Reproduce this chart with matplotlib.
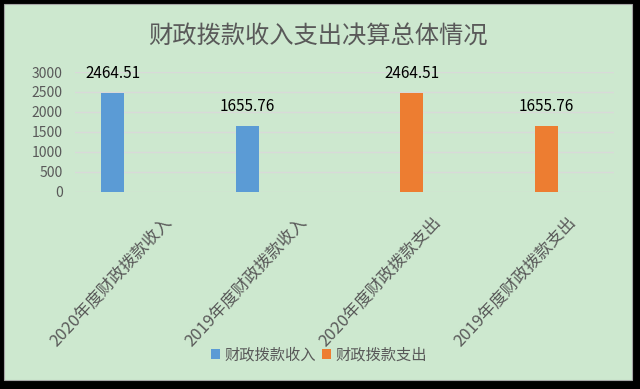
import matplotlib
matplotlib.use('Agg')
import matplotlib.pyplot as plt
from matplotlib.patches import Rectangle
import numpy as np

plt.rcParams['font.family'] = ['Noto Sans CJK SC', 'DejaVu Sans']

categories = ['2020年度财政拨款收入', '2019年度财政拨款收入',
              '2020年度财政拨款支出', '2019年度财政拨款支出']
series_names = ['财政拨款收入', '财政拨款支出']
income = [2464.51, 1655.76, np.nan, np.nan]
expense = [np.nan, np.nan, 2464.51, 1655.76]
y_ticks = [0, 500, 1000, 1500, 2000, 2500, 3000]

BLUE = '#5B9BD5'
ORANGE = '#ED7D31'
BG = '#CDE8CF'
TXT = '#595959'

fig = plt.figure(figsize=(6.4, 3.89), dpi=100, facecolor='black')
# green chart panel on black surround
fig.patches.append(Rectangle((4 / 640, 1 - 380 / 389), 628 / 640, 376 / 389,
                             transform=fig.transFigure, facecolor=BG,
                             edgecolor='#A6A6A6', linewidth=0.8, zorder=-5))

ax = fig.add_axes([75 / 640, 1 - 191.7 / 389, 539 / 640, 119.7 / 389])
ax.set_facecolor('none')
ax.set_zorder(2)

x = np.arange(len(categories))
w = 0.17
b1 = ax.bar(x - 0.22, income, width=w, color=BLUE, label=series_names[0], zorder=3)
b2 = ax.bar(x, expense, width=w, color=ORANGE, label=series_names[1], zorder=3)

for bars, vals in ((b1, income), (b2, expense)):
    for rect, v in zip(bars, vals):
        if np.isnan(v):
            continue
        ax.annotate(f'{v:.2f}', (rect.get_x() + rect.get_width() / 2, v),
                    xytext=(0, 14), textcoords='offset points',
                    ha='center', va='center', fontsize=11, color='black')

ax.set_xlim(-0.5, 3.5)
ax.set_ylim(0, 3000)
ax.set_yticks(y_ticks)
ax.yaxis.grid(True, color='#D9D9D9', linewidth=1, zorder=0)
for s in ax.spines.values():
    s.set_visible(False)
ax.tick_params(axis='both', length=0, colors=TXT, labelsize=10)
ax.tick_params(axis='y', pad=9)

ax.set_xticks(x + 0.15)
ax.set_xticklabels(categories, rotation=47, ha='right', va='top',
                   rotation_mode='anchor', fontsize=12, color=TXT)
ax.tick_params(axis='x', pad=16)

fig.text(318 / 640, 1 - 37 / 389, '财政拨款收入支出决算总体情况',
         ha='center', va='center', fontsize=17.5, color=TXT)

fig.legend(handles=[b1, b2], labels=series_names, loc='center',
           bbox_to_anchor=(319 / 640, 1 - 355 / 389), ncol=2, frameon=False,
           fontsize=11, labelcolor=TXT, handlelength=0.6, handleheight=0.6,
           handletextpad=0.3, columnspacing=0.4)

fig.savefig('out.png', dpi=100, facecolor=fig.get_facecolor())
